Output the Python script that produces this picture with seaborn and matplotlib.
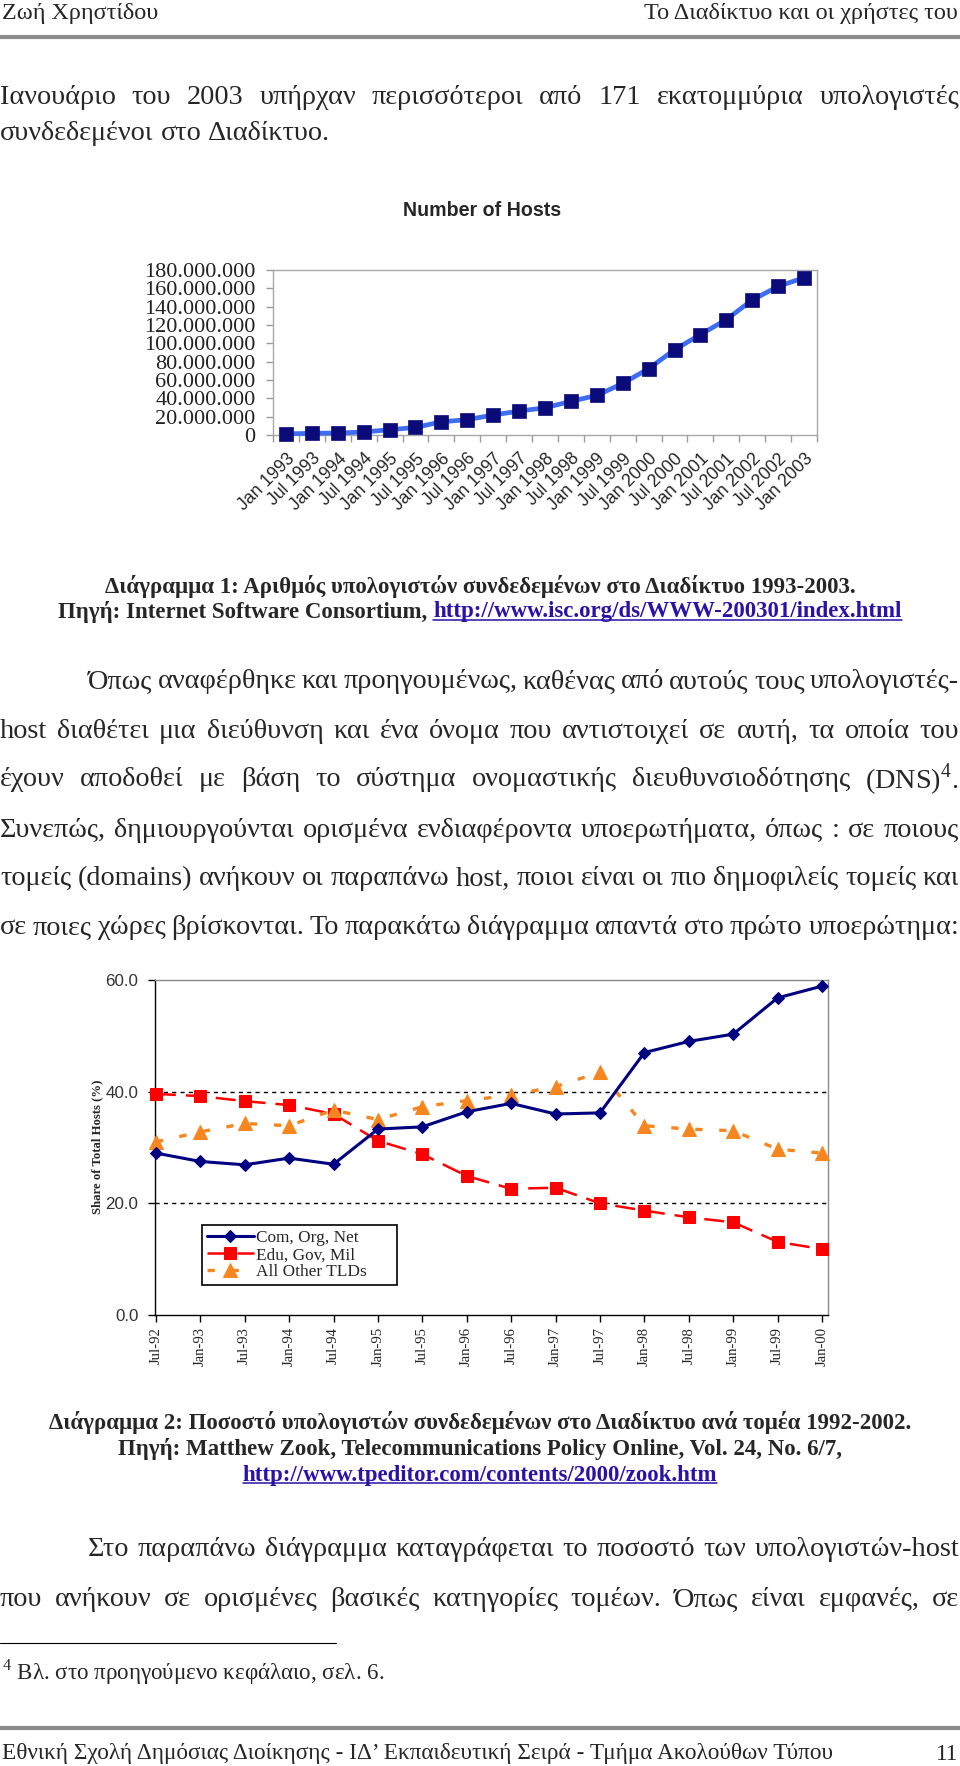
import matplotlib
matplotlib.use("Agg")
import matplotlib.pyplot as plt
from matplotlib.lines import Line2D
from matplotlib.ticker import FuncFormatter, FixedLocator
import numpy as np
import seaborn as sns

# ---------------------------------------------------------------- data
host_dates = ["Jan 1993", "Jul 1993", "Jan 1994", "Jul 1994", "Jan 1995", "Jul 1995",
              "Jan 1996", "Jul 1996", "Jan 1997", "Jul 1997", "Jan 1998", "Jul 1998",
              "Jan 1999", "Jul 1999", "Jan 2000", "Jul 2000", "Jan 2001", "Jul 2001",
              "Jan 2002", "Jul 2002", "Jan 2003"]
hosts = [1.3e6, 1.8e6, 2.2e6, 3.2e6, 5.8e6, 8.2e6, 14.4e6, 16.7e6, 21.8e6, 26.1e6,
         29.7e6, 36.7e6, 43.2e6, 56.2e6, 72.4e6, 93.0e6, 109.6e6, 125.9e6, 147.3e6,
         162.1e6, 171.6e6]
host_ticks = [0, 20e6, 40e6, 60e6, 80e6, 100e6, 120e6, 140e6, 160e6, 180e6]

share_dates = ["Jul-92", "Jan-93", "Jul-93", "Jan-94", "Jul-94", "Jan-95", "Jul-95", "Jan-96",
               "Jul-96", "Jan-97", "Jul-97", "Jan-98", "Jul-98", "Jan-99", "Jul-99", "Jan-00"]
com_org_net = [29.0, 27.5, 26.9, 28.1, 27.0, 33.3, 33.7, 36.4, 37.9, 36.0, 36.2, 47.0,
               49.0, 50.3, 56.8, 58.9]
edu_gov_mil = [39.6, 39.2, 38.3, 37.6, 36.0, 31.2, 28.8, 24.9, 22.6, 22.8, 20.0, 18.7,
               17.5, 16.6, 13.1, 11.8]
other_tlds = [31.0, 32.8, 34.3, 33.9, 36.7, 35.0, 37.3, 38.4, 39.4, 40.9, 43.5, 33.9,
              33.3, 33.0, 29.7, 29.0]
share_names = ["Com, Org, Net", "Edu, Gov, Mil", "All Other TLDs"]
share_ticks = [0, 20, 40, 60]

# ---------------------------------------------------------------- text
header_left = "Ζωή Χρηστίδου"
header_right = "Το Διαδίκτυο και οι χρήστες του"
para1 = ["Ιανουάριο του 2003 υπήρχαν περισσότεροι από 171 εκατομμύρια υπολογιστές",
         "συνδεδεμένοι στο Διαδίκτυο."]
chart1_title = "Number of Hosts"
cap1 = ["Διάγραμμα 1: Αριθμός υπολογιστών συνδεδεμένων στο Διαδίκτυο 1993-2003.",
        "Πηγή: Internet Software Consortium, "]
cap1_link = "http://www.isc.org/ds/WWW-200301/index.html"
para2 = ["Όπως αναφέρθηκε και προηγουμένως, καθένας από αυτούς τους υπολογιστές-",
         "host διαθέτει μια διεύθυνση και ένα όνομα που αντιστοιχεί σε αυτή, τα οποία του",
         r"έχουν αποδοθεί με βάση το σύστημα ονομαστικής διευθυνσιοδότησης (DNS)$^{4}$.",
         "Συνεπώς, δημιουργούνται ορισμένα ενδιαφέροντα υποερωτήματα, όπως : σε ποιους",
         "τομείς (domains) ανήκουν οι παραπάνω host, ποιοι είναι οι πιο δημοφιλείς τομείς και",
         "σε ποιες χώρες βρίσκονται. Το παρακάτω διάγραμμα απαντά στο πρώτο υποερώτημα:"]
share_ylabel = "Share of Total Hosts (%)"
cap2 = ["Διάγραμμα 2: Ποσοστό υπολογιστών συνδεδεμένων στο Διαδίκτυο ανά τομέα 1992-2002.",
        "Πηγή: Matthew Zook, Telecommunications Policy Online, Vol. 24, No. 6/7,"]
cap2_link = "http://www.tpeditor.com/contents/2000/zook.htm"
para3 = ["Στο παραπάνω διάγραμμα καταγράφεται το ποσοστό των υπολογιστών-host",
         "που ανήκουν σε ορισμένες βασικές κατηγορίες τομέων. Όπως είναι εμφανές, σε"]
footnote = r"$^{4}$ Βλ. στο προηγούμενο κεφάλαιο, σελ. 6."
footer = "Εθνική Σχολή Δημόσιας Διοίκησης - ΙΔ’ Εκπαιδευτική Σειρά - Τμήμα Ακολούθων Τύπου"
page_no = "11"

# ---------------------------------------------------------------- setup
W, H = 960, 1766
SERIF = "Liberation Serif"
SANS = "Liberation Sans"
LINK = "#2a12a8"
RULE = "#8c8c8c"

sns.set_style("ticks")
plt.rcParams["font.family"] = [SERIF, "DejaVu Serif"]
plt.rcParams["mathtext.fontset"] = "custom"
plt.rcParams["mathtext.rm"] = SERIF

fig = plt.figure(figsize=(W / 100, H / 100), dpi=100)
renderer = fig.canvas.get_renderer()


def fx(x):
    return x / W


def fy(y):
    return 1 - y / H


def fit(text, width, **kw):
    t = fig.text(0, 0, text, fontsize=10, **kw)
    w = t.get_window_extent(renderer).width
    t.remove()
    return 10 * width / w


def put(text, x, y, size, **kw):
    kw.setdefault("va", "center")
    kw.setdefault("family", SERIF)
    return fig.text(fx(x), fy(y), text, fontsize=size, **kw)


def justify(line, y, size, x0=0, x1=W - 1, last=False):
    words = line.split(" ")
    arts = [put(w, 0, y, size) for w in words]
    widths = [a.get_window_extent(renderer).width for a in arts]
    if last or len(words) == 1:
        gap = size * 0.25 * 100 / 72
    else:
        gap = (x1 - x0 - sum(widths)) / (len(words) - 1)
    x = x0
    for a, w in zip(arts, widths):
        a.set_position((fx(x), fy(y)))
        x += w + gap


def underline(t, color):
    bb = t.get_window_extent(renderer)
    yy = (bb.y0 + 2.5) / H
    fig.add_artist(Line2D([bb.x0 / W, bb.x1 / W], [yy, yy], color=color, lw=1.1))


def rule(y, x0, x1, color, lw):
    fig.add_artist(Line2D([fx(x0), fx(x1)], [fy(y), fy(y)], color=color, lw=lw))


# ---------------------------------------------------------------- page text
hs = fit(header_left, 155, family=SERIF)
put(header_left, 2, 13, hs)
put(header_right, 958, 13, hs, ha="right")
rule(37, 0, W, RULE, 3)

body = fit(para1[1], 328, family=SERIF)
justify(para1[0], 97, body)
justify(para1[1], 134, body, last=True)

cs = fit(cap1[0], 752, family=SERIF, weight="bold")
put(cap1[0], 480, 587, cs, ha="center", weight="bold")
a = put(cap1[1], 0, 612, cs, weight="bold")
b = put(cap1_link, 0, 612, cs, weight="bold", color=LINK)
wa = a.get_window_extent(renderer).width
wb = b.get_window_extent(renderer).width
x0 = 480 - (wa + wb) / 2
a.set_position((fx(x0), fy(612)))
b.set_position((fx(x0 + wa), fy(612)))
underline(b, LINK)

para_y = [682, 731, 780, 830, 879, 928]
for i, (line, y) in enumerate(zip(para2, para_y)):
    justify(line, y, body, x0=88 if i == 0 else 0)

for line, y in zip(cap2, [1423, 1449]):
    put(line, 480, y, cs, ha="center", weight="bold")
c = put(cap2_link, 480, 1475, cs, ha="center", weight="bold", color=LINK)
underline(c, LINK)

justify(para3[0], 1550, body, x0=88)
justify(para3[1], 1600, body)

rule(1643, 0, 336, "black", 0.8)
fs = fit(footnote, 383, family=SERIF)
put(footnote, 2, 1672, fs)

rule(1728, 0, W, RULE, 3)
ft = fit(footer, 830, family=SERIF)
put(footer, 2, 1754, ft)
put(page_no, 958, 1754, ft, ha="right")

# ---------------------------------------------------------------- chart 1
put(chart1_title, 482, 210, fit(chart1_title, 158, family=SANS, weight="bold"),
    ha="center", family=SANS, weight="bold")

ax1 = fig.add_axes([fx(273), fy(435), (817 - 273) / W, (435 - 270) / H])
xi = np.arange(len(host_dates))
sns.lineplot(x=xi, y=hosts, ax=ax1, color="#3d6ef2", lw=3.4, marker="s", markersize=10.5,
             markerfacecolor="#0a0a78", markeredgecolor="#0a0a78", markeredgewidth=0.5,
             clip_on=False, zorder=3)
ax1.set_xlim(-0.5, len(host_dates) - 0.5)
ax1.set_ylim(host_ticks[0], host_ticks[-1])
ax1.set_yticks(host_ticks)
ax1.yaxis.set_major_formatter(FuncFormatter(lambda v, _: f"{int(v):,}".replace(",", ".")))
ax1.set_xticks(xi)
ax1.set_xticklabels(host_dates, rotation=45, ha="right", va="top", rotation_mode="anchor",
                    family=SANS, fontsize=fit("Jan 1993", 72, family=SANS))
ax1.xaxis.set_minor_locator(FixedLocator(np.arange(len(host_dates) + 1) - 0.5))
ax1.tick_params(axis="x", which="major", length=0, pad=11)
ax1.tick_params(axis="x", which="minor", length=5, color="#9a9a9a", width=1)
ax1.tick_params(axis="y", length=5, color="#9a9a9a", width=1, pad=7.5,
                labelsize=fit("180.000.000", 110, family=SERIF), labelcolor="#222222")
for s in ax1.spines.values():
    s.set_color("#a8a8a8")
    s.set_linewidth(1)
ax1.set_xlabel("")
ax1.set_ylabel("")

# ---------------------------------------------------------------- chart 2
ax2 = fig.add_axes([fx(155), fy(1315), (828 - 155) / W, (1315 - 980) / H])
xs = np.arange(len(share_dates))
for v in share_ticks[1:-1]:
    ax2.axhline(v, color="black", lw=1, ls=(0, (3, 3)), zorder=1)
sns.lineplot(x=xs, y=edu_gov_mil, ax=ax2, label=share_names[1], color="#ff0000", lw=1.8,
             linestyle=(0, (8, 4)), marker="s", markersize=8.5, markerfacecolor="#ff0000",
             markeredgecolor="#ff0000", clip_on=False, zorder=3)
sns.lineplot(x=xs, y=other_tlds, ax=ax2, label=share_names[2], color="#f7861f", lw=2.4,
             linestyle=(0, (2.2, 5)), marker="^", markersize=9.5, markerfacecolor="#f7861f",
             markeredgecolor="#f7861f", clip_on=False, zorder=3)
sns.lineplot(x=xs, y=com_org_net, ax=ax2, label=share_names[0], color="#000080", lw=2.2,
             marker="D", markersize=6.5, markerfacecolor="#000080",
             markeredgecolor="#000080", clip_on=False, zorder=4)
ax2.set_xlim(-0.02, len(share_dates) - 1 + 0.135)
ax2.set_ylim(share_ticks[0], share_ticks[-1])
ax2.set_yticks(share_ticks)
ax2.yaxis.set_major_formatter(FuncFormatter(lambda v, _: f"{v:.1f}"))
ax2.set_xticks(xs)
ax2.set_xticklabels(share_dates, rotation=90, family=SERIF,
                    fontsize=fit("Jul-92", 37, family=SERIF))
ax2.tick_params(axis="x", length=5, color="black", width=1, pad=3.5)
ax2.tick_params(axis="y", length=5, color="black", width=1, pad=7,
                labelsize=fit("60.0", 33, family=SANS), labelcolor="#333333")
for lab in ax2.get_yticklabels():
    lab.set_family(SANS)
for side in ["left", "bottom"]:
    ax2.spines[side].set_color("black")
for side in ["top", "right"]:
    ax2.spines[side].set_color("#8a8a8a")
for s in ax2.spines.values():
    s.set_linewidth(1)
ax2.set_xlabel("")
ax2.set_ylabel(share_ylabel, family=SERIF, weight="bold",
               fontsize=fit(share_ylabel, 135, family=SERIF, weight="bold"))
ax2.yaxis.set_label_coords((103 - 155) / (828 - 155), (1315 - 1147) / (1315 - 980))

handles, labels = ax2.get_legend_handles_labels()
order = [labels.index(n) for n in share_names]
leg = ax2.legend([handles[i] for i in order], share_names, loc="upper left",
                 bbox_to_anchor=(fx(202), fy(1281), 195 / W, 56 / H),
                 bbox_transform=fig.transFigure, mode="expand",
                 frameon=True, fancybox=False, edgecolor="black", framealpha=1,
                 prop={"family": SERIF, "size": fit("Com, Org, Net", 102, family=SERIF)},
                 handlelength=2.7, handletextpad=0.15, labelspacing=0.05,
                 borderpad=0.3, borderaxespad=0)
leg.get_frame().set_linewidth(1.2)

fig.savefig("out.png", dpi=100, facecolor="white")
